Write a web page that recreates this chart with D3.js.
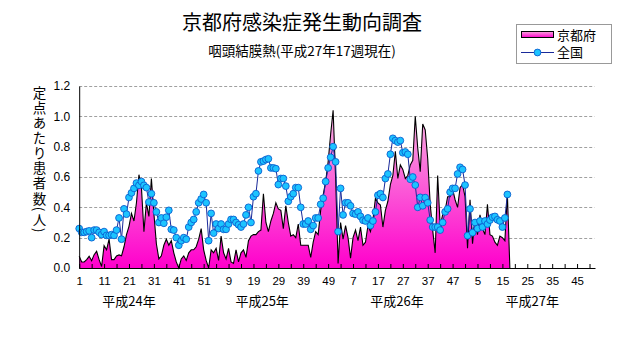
<!DOCTYPE html>
<html><head><meta charset="utf-8">
<script src="https://cdn.jsdelivr.net/npm/d3@7"></script>
<style>
body{margin:0;background:#fff;}
svg{display:block;}
text{font-family:"Noto Sans CJK JP","Noto Sans",sans-serif;fill:#000;}
.num text, text.num{font-family:"Liberation Sans",Arial,sans-serif;}
</style></head><body>
<svg id="c" width="631" height="347"></svg>
<script>
// ---- data ----
const weeksInYear = [52, 52, 52, 52];
const yearLabels = ["平成24年", "平成25年", "平成26年", "平成27年"];
const xTickLabels = ["1","11","21","31","41","51","9","19","29","39","49","7","17","27","37","47","5","15","25","35","45"];
const yTicks = [0, 0.2, 0.4, 0.6, 0.8, 1.0, 1.2];
const seriesNames = ["京都府", "全国"];
const yTitle = "定点あたり患者数(人)";

const kyoto = [
0.077,0.04,0.04,0.055,0.077,0.048,0.088,0.11,0.055,0.01,
0.147,0.12,0.19,0.055,0.055,0.08,0.086,0.08,0.14,0.22,
0.275,0.36,0.31,0.43,0.615,0.53,0.24,0.43,0.34,0.59,
0.36,0.16,0.06,0.08,0.15,0.19,0.15,0.18,0.10,0.04,
0.0,0.06,0.08,0.05,0.10,0.12,0.12,0.14,0.19,0.26,
0.12,0.05,0.0,0.12,0.10,0.13,0.05,0.21,0.10,0.06,
0.13,0.04,0.03,0.12,0.04,0.10,0.12,0.07,0.18,0.21,
0.22,0.22,0.24,0.25,0.49,0.30,0.24,0.31,0.36,0.43,
0.39,0.38,0.26,0.41,0.30,0.21,0.22,0.20,0.29,0.15,
0.15,0.15,0.15,0.07,0.17,0.24,0.22,0.38,0.48,0.57,
0.70,0.88,1.04,0.60,0.03,0.30,0.19,0.28,0.20,0.065,
0.20,0.25,0.18,0.27,0.15,0.17,0.28,0.24,0.32,0.46,
0.43,0.415,0.27,0.38,0.44,0.55,0.61,0.77,0.59,0.68,
0.65,0.59,0.61,0.68,0.71,1.0,0.79,0.635,0.95,0.91,
0.72,0.42,0.25,0.10,0.61,0.28,0.35,0.38,0.47,0.47,
0.52,0.45,0.40,0.53,0.55,0.47,0.13,0.45,0.16,0.32,
0.22,0.35,0.26,0.22,0.42,0.22,0.21,0.17,0.15,0.21,
0.20,0.18,0.49
];

const national = [
0.26,0.235,0.235,0.24,0.245,0.20,0.25,0.25,0.235,0.22,
0.24,0.215,0.215,0.22,0.215,0.25,0.33,0.19,0.39,0.355,
0.465,0.495,0.525,0.56,0.545,0.57,0.545,0.53,0.435,0.49,
0.43,0.37,0.30,0.33,0.295,0.335,0.38,0.255,0.25,0.20,
0.15,0.18,0.20,0.19,0.27,0.30,0.32,0.37,0.43,0.455,
0.485,0.43,0.18,0.36,0.23,0.29,0.26,0.29,0.255,0.255,
0.29,0.32,0.32,0.30,0.285,0.27,0.29,0.35,0.40,0.30,
0.47,0.49,0.64,0.70,0.705,0.715,0.72,0.66,0.66,0.655,
0.55,0.59,0.59,0.54,0.44,0.47,0.49,0.53,0.53,0.40,
0.29,0.29,0.31,0.255,0.28,0.33,0.33,0.42,0.46,0.57,
0.66,0.73,0.80,0.70,0.24,0.525,0.35,0.43,0.43,0.41,
0.36,0.355,0.37,0.34,0.315,0.31,0.33,0.28,0.31,0.37,
0.48,0.49,0.465,0.59,0.62,0.75,0.855,0.84,0.83,0.84,
0.76,0.765,0.75,0.585,0.60,0.547,0.40,0.466,0.41,0.464,
0.43,0.316,0.27,0.27,0.27,0.25,0.30,0.37,0.39,0.50,
0.525,0.525,0.62,0.664,0.65,0.547,0.213,0.39,0.233,0.30,
0.26,0.31,0.27,0.31,0.29,0.316,0.335,0.34,0.318,0.31,
0.27,0.33,0.485
];

// ---- layout ----
const plot = {left: 79.2, right: 594.5, top: 86, bottom: 268};
const totalCats = d3.sum(weeksInYear);
const yearLabelCat = [21, 74.5, 128.7, 183];

const svg = d3.select("#c");
const x = d3.scaleLinear().domain([1, totalCats]).range([plot.left, plot.right]);
const y = d3.scaleLinear().domain([0, 1.2]).range([plot.bottom, plot.top]);

const defs = svg.append("defs");
const grad = defs.append("linearGradient").attr("id", "pink")
  .attr("x1", 0).attr("y1", 0).attr("x2", 0).attr("y2", 1);
grad.append("stop").attr("offset", "0%").attr("stop-color", "#f7b2e2");
grad.append("stop").attr("offset", "100%").attr("stop-color", "#ff00cc");
const grad2 = defs.append("linearGradient").attr("id", "pinkLeg")
  .attr("x1", 0).attr("y1", 0).attr("x2", 0).attr("y2", 1);
grad2.append("stop").attr("offset", "0%").attr("stop-color", "#f7a6dd");
grad2.append("stop").attr("offset", "100%").attr("stop-color", "#ff00cc");

// gridlines
svg.append("g").selectAll("line").data(yTicks.filter(d => d > 0)).join("line")
  .attr("x1", plot.left).attr("x2", plot.right)
  .attr("y1", d => Math.round(y(d)) + 0.5).attr("y2", d => Math.round(y(d)) + 0.5)
  .attr("stroke", "#a0a0a0").attr("stroke-width", 1)
  .attr("stroke-dasharray", "3,2");

// Kyoto area (blank after the last week drawn as zero)
const kyotoPts = kyoto.map((v, i) => [i + 1, v]).concat([[kyoto.length + 1, 0]]);
svg.append("path").datum(kyotoPts)
  .attr("fill", "url(#pink)")
  .attr("d", d3.area().x(d => x(d[0])).y0(y(0)).y1(d => y(d[1])));
svg.append("path").datum(kyotoPts)
  .attr("fill", "none").attr("stroke", "#000").attr("stroke-width", 1.1)
  .attr("d", d3.line().x(d => x(d[0])).y(d => y(d[1])));

// national line + markers
const natPts = national.map((v, i) => [i + 1, v]);
svg.append("path").datum(natPts)
  .attr("fill", "none").attr("stroke", "#1a2a9a").attr("stroke-width", 1)
  .attr("d", d3.line().x(d => x(d[0])).y(d => y(d[1])));
svg.append("g").selectAll("circle").data(natPts).join("circle")
  .attr("cx", d => x(d[0])).attr("cy", d => y(d[1])).attr("r", 3.4)
  .attr("fill", "#1cc4ff").attr("stroke", "#0b5fd0").attr("stroke-width", 0.9);

// axes
const tickCats = d3.range(1, totalCats + 1, 5);
const xAxis = d3.axisBottom(x).tickValues(tickCats).tickSize(-4).tickPadding(9)
  .tickFormat(d => ((d - 1) % 10 === 0) ? xTickLabels[(d - 1) / 10] || "" : "");
const gx = svg.append("g").attr("class", "num").attr("transform", `translate(0,${plot.bottom})`).call(xAxis);
gx.select(".domain").attr("stroke", "#000").attr("d", `M${plot.left},0.5H${plot.right + 1}`);
gx.selectAll(".tick line").attr("stroke", "#000");
gx.selectAll("text").attr("font-size", 11.5).attr("fill", "#000");

const yAxis = d3.axisLeft(y).tickValues(yTicks).tickSize(0).tickPadding(9).tickFormat(d3.format(".1f"));
const gy = svg.append("g").attr("class", "num").attr("transform", `translate(${plot.left},0)`).call(yAxis);
gy.select(".domain").attr("stroke", "#000");
gy.selectAll("text").attr("font-size", 12).attr("fill", "#000");

// year labels
svg.append("g").selectAll("text").data(yearLabels).join("text")
  .attr("x", (d, i) => x(yearLabelCat[i])).attr("y", 306)
  .attr("text-anchor", "middle").attr("font-size", 13).text(d => d);

// titles
svg.append("text").attr("x", 302).attr("y", 30).attr("text-anchor", "middle")
  .attr("font-size", 20).text("京都府感染症発生動向調査");
svg.append("text").attr("x", 302).attr("y", 55.5).attr("text-anchor", "middle")
  .attr("font-size", 13.5).text("咽頭結膜熱(平成27年17週現在)");

// y-axis title (vertical writing)
svg.append("text").attr("x", 39.5).attr("y", 86)
  .style("writing-mode", "vertical-rl")
  .style("letter-spacing", "1.6px")
  .attr("font-size", 13.5)
  .text(yTitle);

// legend
const lg = svg.append("g");
lg.append("rect").attr("x", 516.5).attr("y", 24.5).attr("width", 95).attr("height", 39)
  .attr("fill", "#fff").attr("stroke", "#999");
lg.append("rect").attr("x", 521.5).attr("y", 31.5).attr("width", 32).attr("height", 6)
  .attr("fill", "url(#pinkLeg)").attr("stroke", "#000");
lg.append("text").attr("x", 557).attr("y", 39.5).attr("font-size", 13).text(seriesNames[0]);
lg.append("line").attr("x1", 521).attr("x2", 554).attr("y1", 52.5).attr("y2", 52.5)
  .attr("stroke", "#1a2a9a");
lg.append("circle").attr("cx", 537.5).attr("cy", 52.5).attr("r", 3.4)
  .attr("fill", "#1cc4ff").attr("stroke", "#0b5fd0").attr("stroke-width", 0.9);
lg.append("text").attr("x", 557).attr("y", 57).attr("font-size", 13).text(seriesNames[1]);
</script>
</body></html>
